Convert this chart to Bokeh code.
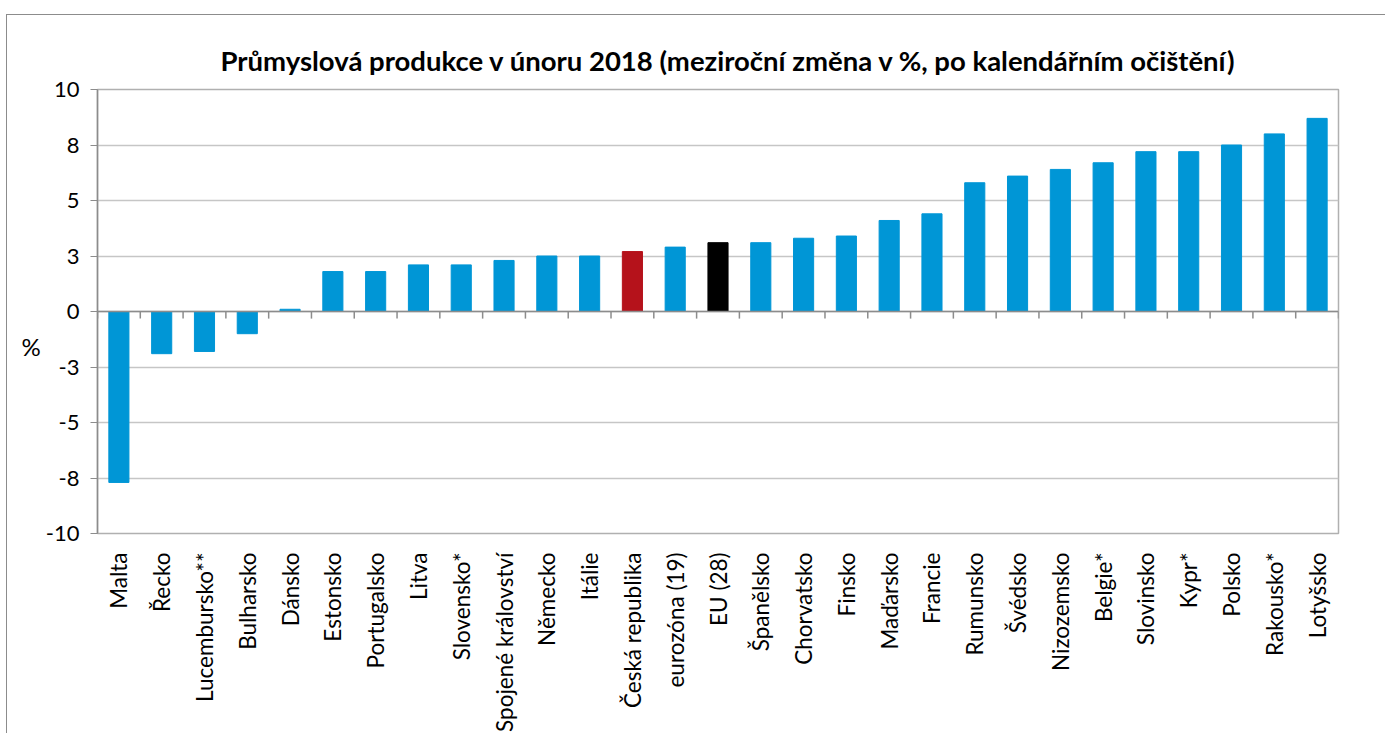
import math
from bokeh.plotting import figure
from bokeh.models import FixedTicker, Span, FactorRange, Range1d
from bokeh.embed import file_html
from bokeh.resources import INLINE

countries = ["Malta", "Řecko", "Lucembursko**", "Bulharsko", "Dánsko", "Estonsko",
             "Portugalsko", "Litva", "Slovensko*", "Spojené království", "Německo",
             "Itálie", "Česká republika", "eurozóna (19)", "EU (28)", "Španělsko",
             "Chorvatsko", "Finsko", "Maďarsko", "Francie", "Rumunsko", "Švédsko",
             "Nizozemsko", "Belgie*", "Slovinsko", "Kypr*", "Polsko", "Rakousko*",
             "Lotyšsko"]
values = [-7.7, -1.9, -1.8, -1.0, 0.1, 1.8, 1.8, 2.1, 2.1, 2.3, 2.5, 2.5, 2.7, 2.9,
          3.1, 3.1, 3.3, 3.4, 4.1, 4.4, 5.8, 6.1, 6.4, 6.7, 7.2, 7.2, 7.5, 8.0, 8.7]
highlight = {"Česká republika": "#B5121B", "EU (28)": "#000000"}
base_color = "#0096D6"
y_ticks = [-10, -7.5, -5, -2.5, 0, 2.5, 5, 7.5, 10]
y_tick_labels = ["-10", "-8", "-5", "-3", "0", "3", "5", "8", "10"]
title_text = "Průmyslová produkce v únoru 2018 (meziroční změna v %, po kalendářním očištění)"
y_label = "%"

colors = [highlight.get(c, base_color) for c in countries]

p = figure(width=1379, height=719, output_backend="svg", toolbar_location=None,
           x_range=FactorRange(factors=countries, range_padding=0),
           y_range=Range1d(-10, 10), title=title_text,
           min_border_left=90, min_border_right=48, min_border_top=74,
           min_border_bottom=193)
p.styles = {"border-top": "1px solid #8c8c8c", "border-left": "1px solid #8c8c8c",
            "margin-top": "14px", "margin-left": "6px"}

p.title.text_font = "Lato"
p.title.text_font_size = "27.5px"
p.title.text_font_style = "bold"
p.title.align = "left"
p.title.offset = 123
p.title.text_color = "#000000"
p.title.standoff = 26

p.vbar(x=countries, top=values, width=0.47, color=colors)

# axis line at zero and category boundary ticks
p.add_layout(Span(location=0, dimension="width", line_color="#8c8c8c", line_width=1.5))
bounds = list(range(len(countries) + 1))
p.segment(x0=bounds, y0=[0] * len(bounds), x1=bounds, y1=[-0.32] * len(bounds),
          line_color="#8c8c8c", line_width=1.5)

p.yaxis.ticker = FixedTicker(ticks=y_ticks)
p.yaxis.major_label_overrides = dict(zip(y_ticks, y_tick_labels))
p.yaxis.major_label_text_font = "Lato"
p.yaxis.major_label_text_font_size = "22px"
p.yaxis.major_label_text_color = "#000000"
p.yaxis.major_label_standoff = 11
p.yaxis.axis_line_color = "#8c8c8c"
p.yaxis.axis_line_width = 1.5
p.yaxis.major_tick_line_color = "#8c8c8c"
p.yaxis.major_tick_out = 7
p.yaxis.major_tick_in = 0
p.yaxis.minor_tick_line_color = None
p.yaxis.axis_label = "\n\n" + y_label
p.yaxis.axis_label_text_font = "Lato"
p.yaxis.axis_label_text_font_size = "24px"
p.yaxis.axis_label_text_font_style = "normal"
p.yaxis.axis_label_text_color = "#000000"
p.yaxis.axis_label_orientation = "horizontal"
p.yaxis.axis_label_standoff = 2

p.xaxis.axis_line_color = None
p.xaxis.major_tick_line_color = None
p.xaxis.minor_tick_line_color = None
p.xaxis.major_label_orientation = math.pi / 2
p.xaxis.major_label_text_font = "Lato"
p.xaxis.major_label_text_font_size = "22.5px"
p.xaxis.major_label_text_color = "#000000"
p.xaxis.major_label_standoff = 13

p.xgrid.grid_line_color = None
p.ygrid.grid_line_color = "#c6c6c6"
p.ygrid.grid_line_width = 1.5
p.outline_line_color = "#b0b0b0"
p.outline_line_width = 1.5

open("out.html", "w").write(file_html(p, INLINE))
